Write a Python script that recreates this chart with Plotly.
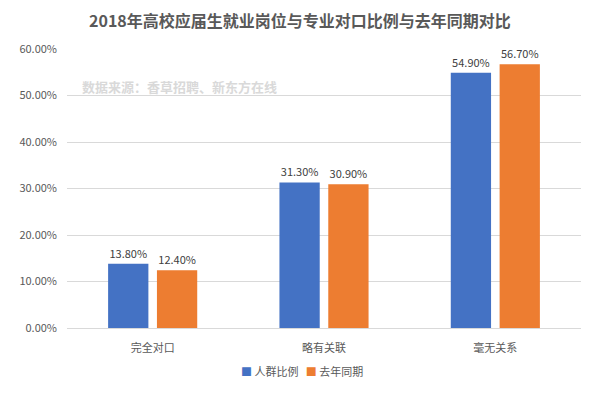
import plotly.graph_objects as go

categories = ["完全对口", "略有关联", "毫无关系"]
series_names = ["人群比例", "去年同期"]
crowd = [13.8, 31.3, 54.9]
last_year = [12.4, 30.9, 56.7]
tick_vals = [0, 10, 20, 30, 40, 50, 60]
tick_text = ["0.00%", "10.00%", "20.00%", "30.00%", "40.00%", "50.00%", "60.00%"]
title_text = "2018年高校应届生就业岗位与专业对口比例与去年同期对比"
source_text = "数据来源：香草招聘、新东方在线"

FONT = "Noto Sans CJK SC, Microsoft YaHei, sans-serif"
colors = ["#4472C4", "#ED7D31"]

fig = go.Figure()
for name, vals, c in zip(series_names, [crowd, last_year], colors):
    fig.add_trace(go.Bar(
        x=categories, y=vals, name=name, marker=dict(color=c, line=dict(width=0)),
        text=[f"{v:.2f}%" for v in vals], textposition="outside",
        textfont=dict(size=11, color="#404040", family=FONT),
        cliponaxis=False, showlegend=False,
    ))

legend_html = "   ".join(
    f"<span style='color:{c}'>■</span> {n}" for n, c in zip(series_names, colors)
)

fig.update_layout(
    width=581, height=381,
    margin=dict(l=59, r=8, t=41, b=61, autoexpand=False),
    paper_bgcolor="white", plot_bgcolor="white",
    barmode="group", bargap=0.43, bargroupgap=0.175,
    font=dict(family=FONT, size=11, color="#595959"),
    xaxis=dict(showline=True, linecolor="#D9D9D9", linewidth=1, ticks="", automargin=False,
               tickfont=dict(size=11, color="#595959"), ticklabelstandoff=10),
    yaxis=dict(range=[0, 60], tickvals=tick_vals, ticktext=tick_text, showgrid=True,
               gridcolor="#D9D9D9", gridwidth=1, zeroline=False, showline=False, automargin=False,
               tickfont=dict(size=11, color="#595959"), ticklabelstandoff=9),
    showlegend=False,
    annotations=[
        dict(text=f"<b>{title_text}</b>", xref="paper", yref="paper",
             x=0.453, y=1 + 29 / 279, xanchor="center", yanchor="middle", showarrow=False,
             font=dict(size=16, color="#595959", family=FONT)),
        dict(text=f"<b>{source_text}</b>", xref="paper", yref="paper",
             x=0.025, y=0.867, xanchor="left", yanchor="middle", showarrow=False,
             font=dict(size=13, color="#D9D9D9", family=FONT)),
        dict(text=legend_html, xref="paper", yref="paper", x=0.457, y=-0.154,
             xanchor="center", yanchor="middle", showarrow=False,
             font=dict(size=11, color="#595959", family=FONT)),
    ],
)

fig.write_html("out.html")
